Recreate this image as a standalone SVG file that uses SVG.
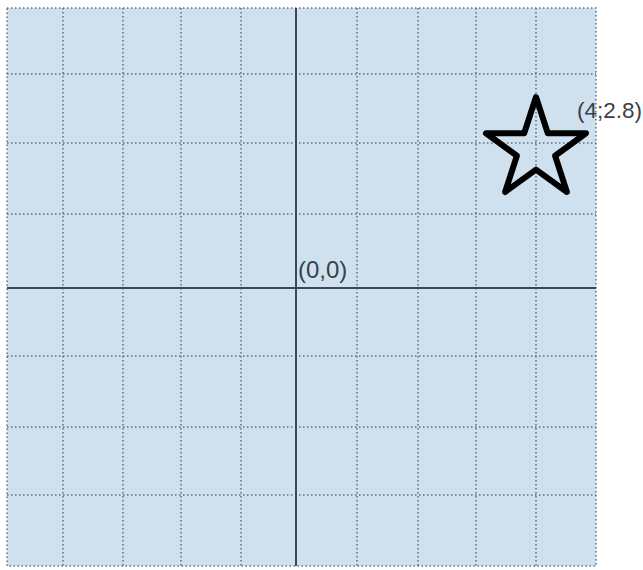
<svg xmlns="http://www.w3.org/2000/svg" width="643" height="570" viewBox="0 0 643 570">
  <style>
    .grid { stroke: #5f6f82; stroke-width: 1.5; stroke-dasharray: 1.5 2.5; fill: none; }
    .axis { stroke: #3a4858; stroke-width: 2; fill: none; }
    .label { font-family: "Liberation Sans", Arial, sans-serif; fill: #3a3f48; }
  </style>
  <rect x="0" y="0" width="643" height="570" fill="#ffffff"/>
  <rect id="plane" x="7" y="8" width="589" height="558" fill="#cfe1ef"/>
  <g id="grid" class="grid">
    <rect x="7" y="8" width="589" height="558"/>
    <line x1="63" y1="8" x2="63" y2="566"/>
    <line x1="123" y1="8" x2="123" y2="566"/>
    <line x1="181" y1="8" x2="181" y2="566"/>
    <line x1="241" y1="8" x2="241" y2="566"/>
    <line x1="357" y1="8" x2="357" y2="566"/>
    <line x1="418" y1="8" x2="418" y2="566"/>
    <line x1="476" y1="8" x2="476" y2="566"/>
    <line x1="536" y1="8" x2="536" y2="566"/>
    <line x1="7" y1="74" x2="596" y2="74"/>
    <line x1="7" y1="143" x2="596" y2="143"/>
    <line x1="7" y1="214" x2="596" y2="214"/>
    <line x1="7" y1="356" x2="596" y2="356"/>
    <line x1="7" y1="427" x2="596" y2="427"/>
    <line x1="7" y1="495" x2="596" y2="495"/>
  </g>
  <g id="axes" class="axis">
    <line x1="296" y1="8" x2="296" y2="566"/>
    <line x1="7" y1="288" x2="596" y2="288"/>
  </g>
  <g id="star">
    <polygon points="536,97 547.8,133.3 586,133.3 555.1,155.7 566.9,192 536,169.6 505.1,192 516.9,155.7 486,133.3 524.2,133.3" fill="none" stroke="#000000" stroke-width="6" stroke-linejoin="round"/>
  </g>
  <g id="labels">
    <text class="label" x="298" y="278" font-size="24">(0,0)</text>
    <text class="label" x="577" y="118" font-size="22.5">(4;2.8)</text>
  </g>
</svg>
